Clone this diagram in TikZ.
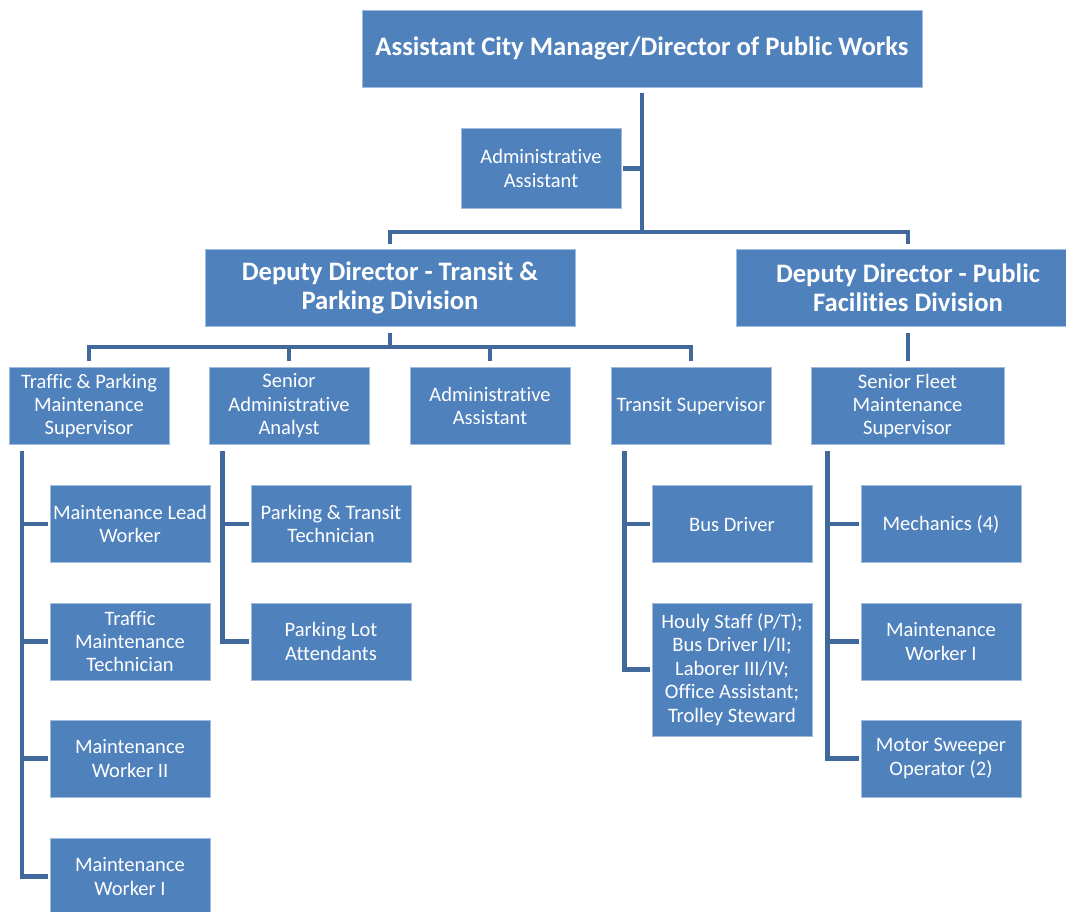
\documentclass[tikz,border=0pt]{standalone}
\usepackage{fontspec}
\setmainfont[Ligatures=NoCommon]{Carlito}
\usepackage{tikz}
\usetikzlibrary{calc,positioning}
\definecolor{boxblue}{HTML}{4F81BD}
\definecolor{boxedge}{HTML}{9FBBDD}
\definecolor{linkblue}{HTML}{41699C}
\begin{document}
\begin{tikzpicture}[x=0.75pt,y=-0.75pt]
        \tikzstyle{box} = [draw=boxedge, line width=0.5pt, fill=boxblue, text=white, align=center,
          inner sep=0pt, minimum width=120pt, minimum height=57.75pt,
          font=\fontsize{15.4}{17.6}\selectfont]
        \tikzstyle{head} = [box, font=\fontsize{20}{21.75}\selectfont\bfseries]
        \tikzstyle{conn} = [draw=linkblue, line width=3.3pt]
        \useasboundingbox (0,0) rectangle (1066,911);

        \node[head, minimum width=420pt] (acm) at (642,48.5) {Assistant City Manager/Director of Public Works};
        \node[box, minimum height=60pt] (aa1) at (541,168.5) {Administrative\\Assistant};
        \node[head, minimum width=277.5pt] (ddt) at (390,288) {Deputy Director - Transit \&\\Parking Division};
        \node[head, minimum width=258pt] (ddp) at (908,288) {Deputy Director - Public\\Facilities Division};

        \node[box] (tpm) at (89,406) {Traffic \& Parking\\Maintenance\\Supervisor};
        \node[box] (saa) at (289,406) {Senior\\Administrative\\Analyst};
        \node[box] (aa2) at (490,406) {Administrative\\Assistant};
        \node[box] (tsu) at (691,406) {Transit Supervisor};
        \node[box, minimum width=144.75pt] (sfm) at (907.5,406) {Senior Fleet\\Maintenance\\Supervisor};

        \node[box] (mlw) at (130,524) {Maintenance Lead\\Worker};
        \node[box] (tmt) at (130,641.5) {Traffic\\Maintenance\\Technician};
        \node[box] (mw2) at (130,758.5) {Maintenance\\Worker II};
        \node[box] (mw1) at (130,876.5) {Maintenance\\Worker I};

        \node[box] (ptt) at (331,524) {Parking \& Transit\\Technician};
        \node[box] (pla) at (331,641.5) {Parking Lot\\Attendants};

        \node[box] (bdr) at (732,524) {Bus Driver};
        \node[box, minimum height=99.75pt] (hst) at (732,669.5) {Houly Staff (P/T);\\Bus Driver I/II;\\Laborer III/IV;\\Office Assistant;\\Trolley Steward};

        \node[box] (mec) at (941,524) {Mechanics (4)};
        \node[box] (mwf) at (941,641.5) {Maintenance\\Worker I};
        \node[box] (mso) at (941,758.5) {Motor Sweeper\\Operator (2)};

        \coordinate (j1) at (642,232);
        \coordinate (j2) at (390,347);

        \draw[conn] ([yshift=-4.5pt]acm.south) -- (j1);
        \draw[conn] (acm.south |- aa1.east) -- ([xshift=1.5pt]aa1.east);
        \draw[conn] ([yshift=4pt]ddt.north) |- (j1) -| ([yshift=4pt]ddp.north);

        \draw[conn] ([yshift=-4.5pt]ddt.south) -- (j2);
        \draw[conn] ([yshift=4.5pt]tpm.north) |- (j2) -| ([yshift=4.5pt]tsu.north);
        \draw[conn] ([yshift=4.5pt]saa.north) -- (saa.north |- j2);
        \draw[conn] ([yshift=4.5pt]aa2.north) -- (aa2.north |- j2);
        \draw[conn] ([yshift=-4.5pt]ddp.south) -- ([yshift=4.5pt]ddp.south |- sfm.north);

        % columns under each supervisor
        \draw[conn] ([xshift=10pt,yshift=-4.5pt]tpm.south west) |- ([xshift=-1.5pt]mw1.west);
        \draw[conn] ([xshift=10pt]tpm.south west |- mlw.west) -- ([xshift=-1.5pt]mlw.west);
        \draw[conn] ([xshift=10pt]tpm.south west |- tmt.west) -- ([xshift=-1.5pt]tmt.west);
        \draw[conn] ([xshift=10pt]tpm.south west |- mw2.west) -- ([xshift=-1.5pt]mw2.west);

        \draw[conn] ([xshift=10.5pt,yshift=-4.5pt]saa.south west) |- ([xshift=-1.5pt]pla.west);
        \draw[conn] ([xshift=10.5pt]saa.south west |- ptt.west) -- ([xshift=-1.5pt]ptt.west);

        \draw[conn] ([xshift=10.5pt,yshift=-4.5pt]tsu.south west) |- ([xshift=-1.5pt]hst.west);
        \draw[conn] ([xshift=10.5pt]tsu.south west |- bdr.west) -- ([xshift=-1.5pt]bdr.west);

        \draw[conn] ([xshift=12.75pt,yshift=-4.5pt]sfm.south west) |- ([xshift=-1.5pt]mso.west);
        \draw[conn] ([xshift=12.75pt]sfm.south west |- mec.west) -- ([xshift=-1.5pt]mec.west);
        \draw[conn] ([xshift=12.75pt]sfm.south west |- mwf.west) -- ([xshift=-1.5pt]mwf.west);
\end{tikzpicture}
\end{document}
